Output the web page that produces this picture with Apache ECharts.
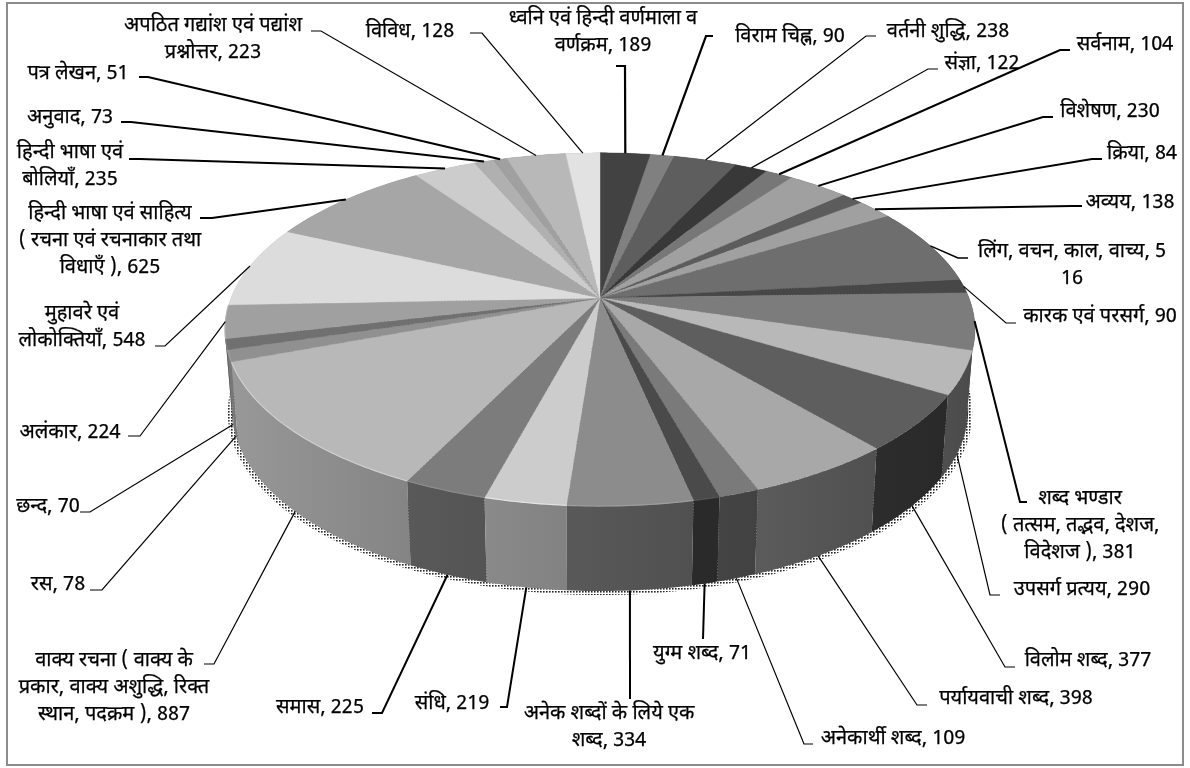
<!DOCTYPE html>
<html><head><meta charset="utf-8">
<style>html,body{margin:0;padding:0;background:#fff}#c{width:1190px;height:768px}</style>
<script src="https://cdn.jsdelivr.net/npm/echarts@6/dist/echarts.min.js"></script>
</head><body><div id="c"></div>
<script>
const categories = ["ध्वनि एवं हिन्दी वर्णमाला व\nवर्णक्रम","विराम चिह्न","वर्तनी शुद्धि","संज्ञा","सर्वनाम","विशेषण","क्रिया","अव्यय","लिंग, वचन, काल, वाच्य","कारक एवं परसर्ग","शब्द भण्डार\n( तत्सम, तद्भव, देशज,\nविदेशज )","उपसर्ग प्रत्यय","विलोम शब्द","पर्यायवाची शब्द","अनेकार्थी शब्द","युग्म शब्द","अनेक शब्दों के लिये एक\nशब्द","संधि","समास","वाक्य रचना ( वाक्य के\nप्रकार, वाक्य अशुद्धि, रिक्त\nस्थान, पदक्रम )","रस","छन्द","अलंकार","मुहावरे एवं\nलोकोक्तियाँ","हिन्दी भाषा एवं साहित्य\n( रचना एवं रचनाकार तथा\nविधाएँ )","हिन्दी भाषा एवं\nबोलियाँ","अनुवाद","पत्र लेखन","अपठित गद्यांश एवं पद्यांश\nप्रश्नोत्तर","विविध"];
const values = [189,90,238,122,104,230,84,138,516,90,381,290,377,398,109,71,334,219,225,887,78,70,224,548,625,235,73,51,223,128];
const sliceColors = ["#424242","#808080","#5e5e5e","#383838","#777777","#a0a0a0","#5c5c5c","#a0a0a0","#6e6e6e","#474747","#7c7c7c","#b8b8b8","#5e5e5e","#a8a8a8","#7a7a7a","#4a4a4a","#8c8c8c","#cccccc","#7c7c7c","#b8b8b8","#909090","#707070","#a0a0a0","#dcdcdc","#a6a6a6","#cccccc","#b0b0b0","#a0a0a0","#b8b8b8","#e2e2e2"];

// label placement: text centre, then leader elbow and leader end
const labelLayout = [
 {t:[603,31],e:[625,66],n:[616,66],w:2.2},{t:[790,35],e:[706,36],n:[713,36],w:2.2},{t:[948,30],e:[866,36],n:[876,36],w:1.2},
 {t:[982,62],e:[928,69],n:[938,69],w:1.2},{t:[1125,43],e:[1060,50],n:[1070,50],w:2},{t:[1110,110],e:[1043,117],n:[1053,117],w:2},
 {t:[1142,152],e:[1092,159],n:[1102,159],w:2},{t:[1130,201],e:[1072,206],n:[1082,206],w:2},{t:[1072,264],e:[958,258],n:[968,258],w:1.6,splitDigits:true},
 {t:[1100,315],e:[1006,323],n:[1016,323],w:1.2},{t:[1080,524],e:[1020,502],n:[1027,502],w:2},{t:[1082,588],e:[990,595],n:[1000,595],w:1.2},
 {t:[1088,659],e:[1005,667],n:[1015,667],w:1.2},{t:[1016,697],e:[917,705],n:[927,705],w:1.2},{t:[893,737],e:[804,744],n:[813,744],w:1.2},
 {t:[702,652],e:[703,639],n:[703,639],w:2},{t:[609,726],e:[630,699],n:[630,699],w:2},{t:[452,702],e:[507,707],n:[500,707],w:2},
 {t:[320,706],e:[382,713],n:[372,713],w:2},{t:[114,686],e:[214,664],n:[204,664],w:1.2},{t:[58,583],e:[102,590],n:[90,590],w:1.2},
 {t:[48,505],e:[90,512],n:[80,512],w:1.2},{t:[70,431],e:[140,436],n:[128,436],w:1.2},{t:[82,326],e:[165,346],n:[155,346],w:1.2},
 {t:[110,239],e:[212,218],n:[200,218],w:2},{t:[70,165],e:[140,159],n:[129,159],w:2},{t:[70,116],e:[131,122],n:[121,122],w:2},
 {t:[78,72],e:[148,77],n:[139,77],w:2},{t:[213,38],e:[321,31],n:[311,31],w:1.2},{t:[410,30],e:[482,33],n:[470,33],w:1.2}
];

const chart = echarts.init(document.getElementById('c'));
const CX = 600, CY = 298, A = 369, B = 171, K = 0.178, FRONT_DROP = 85, BACK_DROP = 72, TEXT_DY = 3;
const total = values.reduce((a, b) => a + b, 0);
const cum = []; values.reduce((s, v, i) => (cum[i] = s, s + v), 0);
const angle = v => v / total * Math.PI * 2;

function topPt(th) {
  const u = Math.sin(th), v = -Math.cos(th), w = 1 - K * v;
  return [CX + A * u / w, CY + B * v / w];
}
function botPt(th) {
  const p = topPt(th), v = -Math.cos(th);
  return [CX + (p[0] - CX) * 0.982, p[1] + BACK_DROP + (FRONT_DROP - BACK_DROP) * (v + 1) / 2];
}
function arc(fn, a0, a1) {
  const n = Math.max(2, Math.ceil((a1 - a0) / 0.015)), r = [];
  for (let i = 0; i <= n; i++) r.push(fn(a0 + (a1 - a0) * i / n));
  return r;
}
function shade(hex, f) {
  const n = parseInt(hex.slice(1), 16);
  const c = [n >> 16, (n >> 8) & 255, n & 255].map(x => Math.round(Math.min(255, x * f)));
  return `rgb(${c[0]},${c[1]},${c[2]})`;
}
const lit = th => 0.62 - 0.22 * Math.sin(th);

// stippled shadow fill
const pat = document.createElement('canvas'); pat.width = 3; pat.height = 3;
const pc = pat.getContext('2d'); pc.fillStyle = '#222';
pc.fillRect(0, 0, 1.6, 1.6);

const order = values.map((_, i) => i).sort((a, b) => {
  const m = i => -Math.cos(angle(cum[i] + values[i] / 2));
  return m(a) - m(b);
});

function sideItem(params) {
  const i = order[params.dataIndex];
  const a0 = angle(cum[i]), a1 = angle(cum[i] + values[i]);
  const pts = arc(topPt, a0, a1).concat(arc(botPt, a0, a1).reverse());
  const left = Math.sin(a0) < Math.sin(a1) ? a0 : a1, right = left === a0 ? a1 : a0;
  return {type: 'polygon', shape: {points: pts}, style: {
    fill: {type: 'linear', x: 0, y: 0, x2: 1, y2: 0, colorStops: [
      {offset: 0, color: shade(sliceColors[i], lit(left))},
      {offset: 1, color: shade(sliceColors[i], lit(right))}]}}};
}
function topItem(params) {
  const i = params.dataIndex;
  const a0 = angle(cum[i]), a1 = angle(cum[i] + values[i]);
  const rim = arc(topPt, a0, a1);
  const kids = [{type: 'polygon', shape: {points: [[CX, CY]].concat(rim)},
    style: {fill: sliceColors[i], stroke: sliceColors[i], lineWidth: 0.4}}];
  const mid = (a0 + a1) / 2;
  if (-Math.cos(mid) > 0.05 && Math.sin(mid) < 0.3) {
    kids.push({type: 'polyline', shape: {points: rim},
      style: {fill: 'none', stroke: shade(sliceColors[i], 1.12), lineWidth: 1.2}});
  }
  return {type: 'group', children: kids};
}
function labelItem(params) {
  const i = params.dataIndex, L = labelLayout[i];
  const mid = angle(cum[i] + values[i] / 2);
  const start = -Math.cos(mid) > 0.2 ? botPt(mid) : topPt(mid);
  let txt = categories[i] + ', ' + values[i];
  if (L.splitDigits) { const s = String(values[i]); txt = categories[i] + ', ' + s[0] + '\n' + s.slice(1); }
  return {type: 'group', children: [
    {type: 'polyline', shape: {points: [start, L.e, L.n]}, style: {fill: 'none', stroke: '#000', lineWidth: L.w}},
    {type: 'text', style: {text: txt, x: L.t[0], y: L.t[1] + TEXT_DY, align: 'center', verticalAlign: 'middle',
      fill: '#000', stroke: '#000', lineWidth: 0.25,
      font: '20px "Noto Sans Devanagari","Lohit Devanagari","Noto Sans","Liberation Serif",sans-serif',
      lineHeight: 27}}
  ]};
}
function shadowItem() {
  const pts = arc(th => {
    const p = botPt(th), u = Math.sin(th);
    return [p[0] + u * 4, p[1] + 4];
  }, 0, Math.PI * 2);
  return {type: 'polygon', shape: {points: pts}, style: {fill: {image: pat, repeat: 'repeat'}}};
}

chart.setOption({
  animation: false,
  backgroundColor: '#ffffff',
  graphic: [{type: 'rect', z: 0, shape: {x: 7, y: 3, width: 1176, height: 762},
    style: {fill: '#fff', stroke: '#8c8c8c', lineWidth: 2}}],
  series: [
    {type: 'custom', coordinateSystem: 'none', z: 1, silent: true, data: [0], renderItem: shadowItem},
    {type: 'custom', coordinateSystem: 'none', z: 2, silent: true, data: order.map(i => values[i]), renderItem: sideItem},
    {type: 'custom', coordinateSystem: 'none', z: 3, silent: true, data: values, renderItem: topItem},
    {type: 'custom', coordinateSystem: 'none', z: 4, silent: true, data: values, renderItem: labelItem}
  ]
});
</script></body></html>
